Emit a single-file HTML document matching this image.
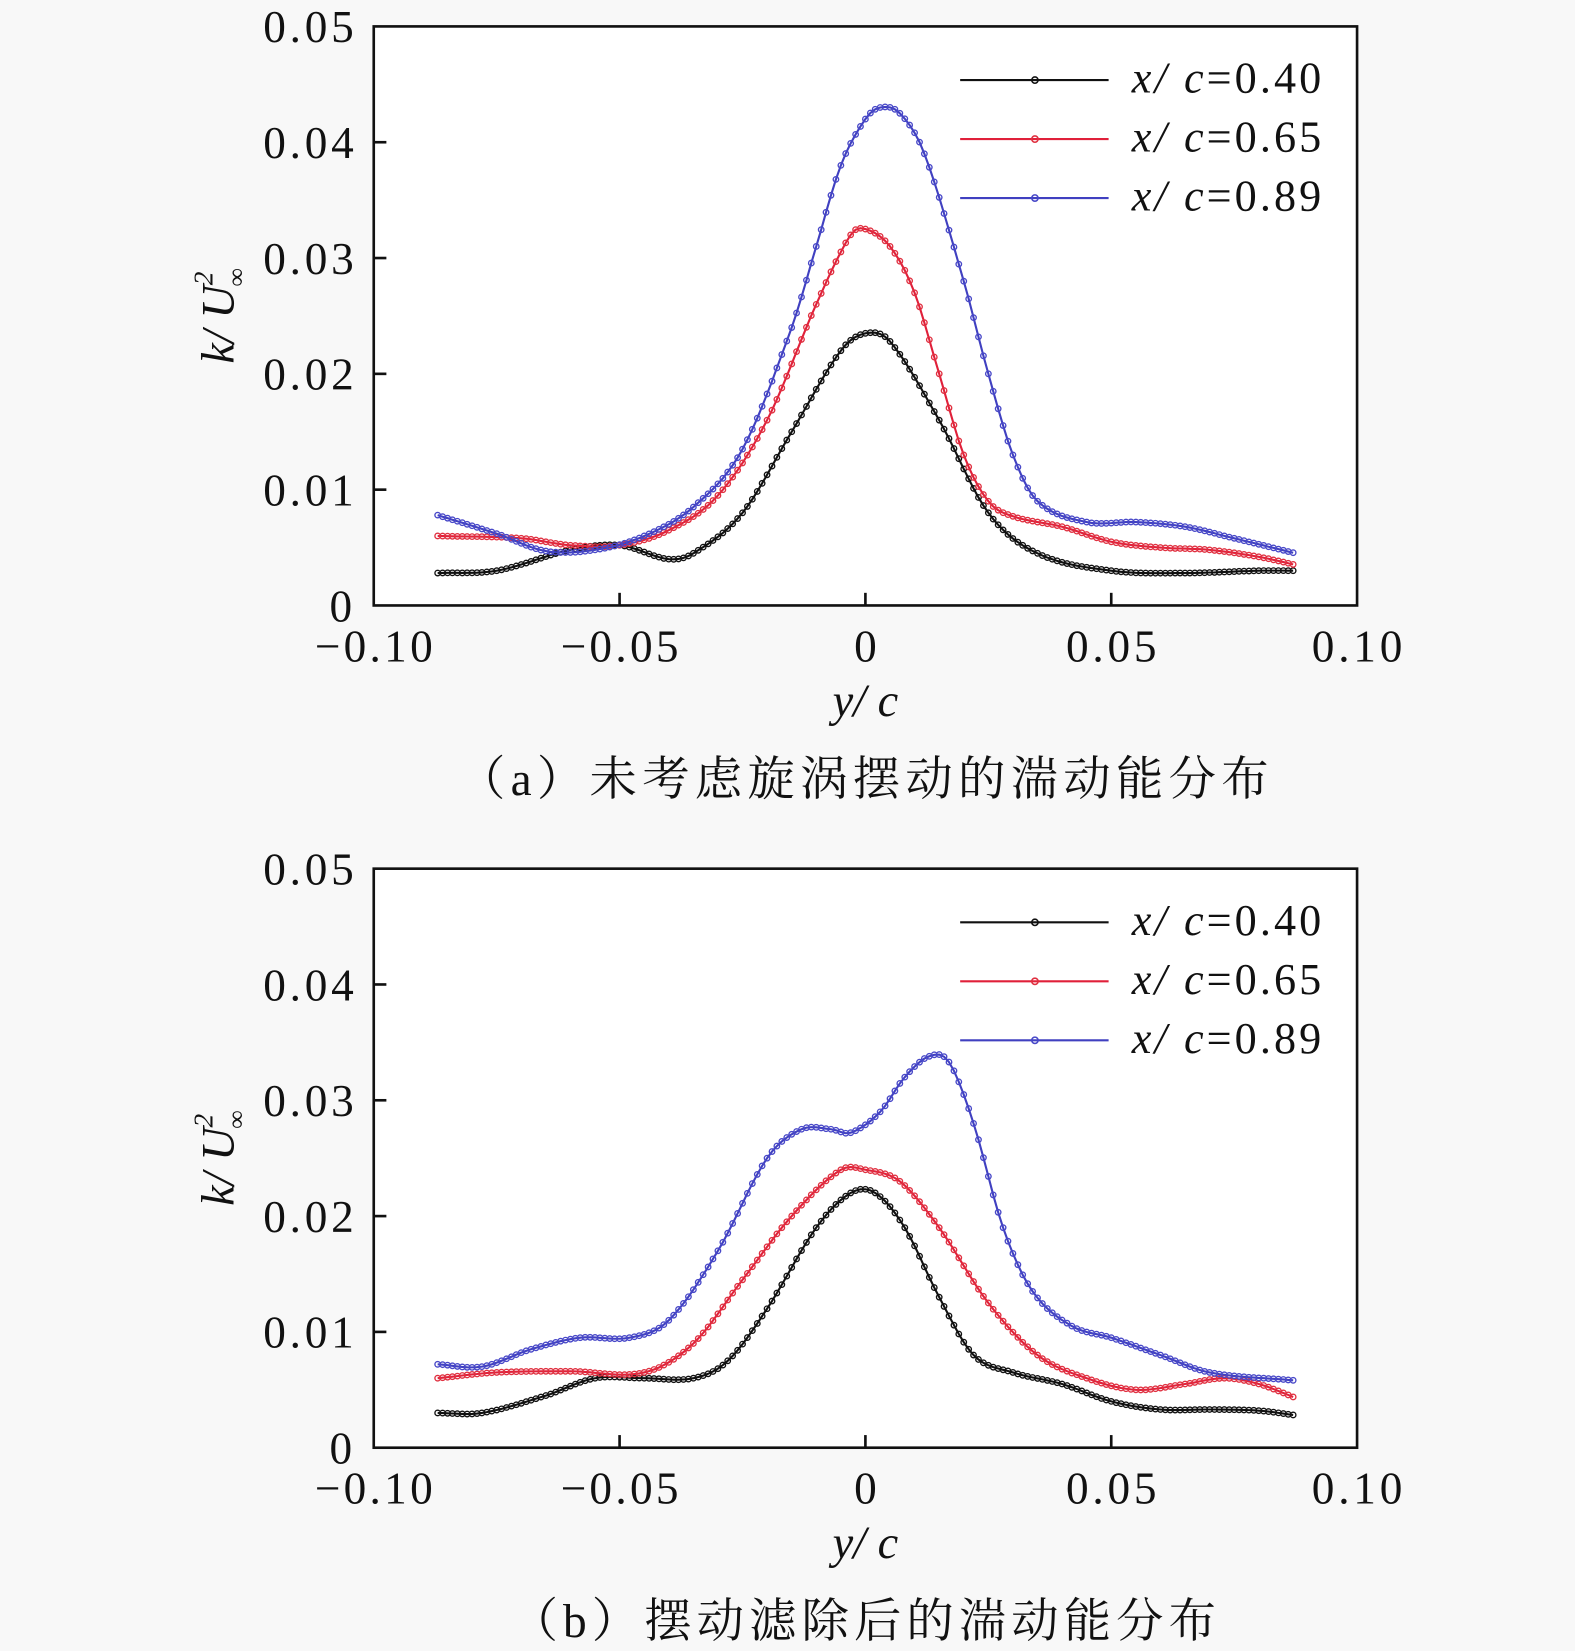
<!DOCTYPE html>
<html><head><meta charset="utf-8"><style>
html,body{margin:0;padding:0;background:#f8f8f8;}
svg{display:block}
text{font-family:"Liberation Serif","Noto Serif CJK SC",serif;fill:#111}
</style></head><body>
<svg id="s" width="1575" height="1651" viewBox="0 0 1496 1568" xmlns="http://www.w3.org/2000/svg"></svg>
<script>
const s=document.getElementById('s');
let h='';
const X0=355,X1=1289;
function px(x){return X0+(x+0.1)/0.2*(X1-X0);}
function interp(pts,x){
  let i=0;while(i<pts.length-2&&x>pts[i+1][0])i++;
  const p1=pts[i],p2=pts[i+1],p0=pts[Math.max(0,i-1)],p3=pts[Math.min(pts.length-1,i+2)];
  const t=(x-p1[0])/(p2[0]-p1[0]);
  const dx=p2[0]-p1[0];
  const m1=(p2[1]-p0[1])/(p2[0]-p0[0])*dx, m2=(p3[1]-p1[1])/(p3[0]-p1[0])*dx;
  const t2=t*t,t3=t2*t;
  return (2*t3-3*t2+1)*p1[1]+(t3-2*t2+t)*m1+(-2*t3+3*t2)*p2[1]+(t3-t2)*m2;
}
function panel(oy,data,cap,capx,capw){
  const Y0=oy+575,py=v=>Y0-v/0.05*550;
  h+=`<rect x="${X0}" y="${oy+25}" width="${X1-X0}" height="550" fill="#fff" stroke="#111" stroke-width="2.5"/>`;
  for(let i=1;i<5;i++){h+=`<line x1="${X0}" x2="${X0+12}" y1="${py(i*0.01)}" y2="${py(i*0.01)}" stroke="#111" stroke-width="2.5"/>`;}
  [-0.05,0,0.05].forEach(v=>h+=`<line x1="${px(v)}" x2="${px(v)}" y1="${Y0}" y2="${Y0-12}" stroke="#111" stroke-width="2.5"/>`);
  ['0','0.01','0.02','0.03','0.04','0.05'].forEach((t,i)=>{
    const tl=t.length>1?' textLength="86"':'';
    h+=`<text x="${t.length>1?250:313}" y="${py(i*0.01)+15}" font-size="43"${tl}>${t}</text>`;});
  ['\u22120.10','\u22120.05','0','0.05','0.10'].forEach((t,i)=>{
    const c=px(-0.1+i*0.05);const w=t.length>4?112:(t.length>1?86:0);
    if(w) h+=`<text x="${c-(t.length>4?56:43)}" y="${Y0+53}" font-size="43" textLength="${w}">${t}</text>`;
    else h+=`<text x="${c}" y="${Y0+53}" font-size="43" text-anchor="middle">${t}</text>`;});
  h+=`<text x="822" y="${Y0+105}" font-size="44" font-style="italic" text-anchor="middle">y/ c</text>`;
  h+=`<text transform="translate(222,${oy+300}) rotate(-90)" font-size="44" font-style="italic" text-anchor="middle">k/ U<tspan font-size="26" dy="-20">2</tspan><tspan font-size="24" dy="30" dx="-14">∞</tspan></text>`;
  h+=`<text x="${capx}" y="${oy+755}" font-size="45" textLength="${capw}">${cap}</text>`;
  const cols=['#111','#e0203a','#4040c0'],mk=['#111','#e03040','#4848c8'],lab=['0.40','0.65','0.89'];
  data.forEach((pts,k)=>{
    let d='',c='';
    for(let x=-0.087;x<=0.0871;x+=0.001){
      const X=px(x),Y=py(interp(pts,x));
      d+=(d?'L':'M')+X.toFixed(1)+' '+Y.toFixed(1);
      c+=`<circle cx="${X.toFixed(1)}" cy="${Y.toFixed(1)}" r="2.6"/>`;
    }
    h+=`<path d="${d}" fill="none" stroke="${cols[k]}" stroke-width="2"/>`;
    h+=`<g fill="none" stroke="${mk[k]}" stroke-width="1.3">${c}</g>`;
    const ly=oy+76+k*56;
    h+=`<line x1="912" x2="1053" y1="${ly}" y2="${ly}" stroke="${cols[k]}" stroke-width="2"/><circle cx="983" cy="${ly}" r="3" fill="none" stroke="${mk[k]}" stroke-width="1.5"/>`;
    h+=`<text x="1075" y="${ly+12}" font-size="42" textLength="180"><tspan font-style="italic">x/ c</tspan>=${lab[k]}</text>`;
  });
}
const A=[
[[-0.087,0.0028],[-0.075,0.003],[-0.06,0.0048],[-0.05,0.0052],[-0.04,0.004],[-0.035,0.0045],[-0.025,0.008],[-0.015,0.015],[-0.005,0.022],[0,0.0235],[0.005,0.0228],[0.015,0.016],[0.025,0.008],[0.035,0.0045],[0.05,0.003],[0.065,0.0028],[0.08,0.003],[0.0875,0.003]],
[[-0.087,0.006],[-0.07,0.0058],[-0.06,0.0052],[-0.05,0.0052],[-0.04,0.0065],[-0.03,0.0095],[-0.02,0.016],[-0.01,0.026],[-0.003,0.032],[0,0.0325],[0.005,0.031],[0.01,0.027],[0.015,0.02],[0.02,0.013],[0.025,0.009],[0.03,0.0077],[0.04,0.0068],[0.05,0.0055],[0.06,0.005],[0.07,0.0048],[0.08,0.0042],[0.0875,0.0035]],
[[-0.087,0.0078],[-0.075,0.0062],[-0.065,0.0047],[-0.055,0.0048],[-0.045,0.006],[-0.035,0.0085],[-0.025,0.0135],[-0.015,0.024],[-0.01,0.031],[-0.005,0.038],[0,0.042],[0.003,0.043],[0.007,0.0425],[0.012,0.039],[0.02,0.028],[0.025,0.02],[0.03,0.013],[0.035,0.009],[0.045,0.0072],[0.055,0.0072],[0.065,0.0068],[0.075,0.0058],[0.0875,0.0045]]];
const B=[
[[-0.087,0.003],[-0.078,0.003],[-0.065,0.0045],[-0.055,0.006],[-0.045,0.006],[-0.035,0.006],[-0.028,0.0075],[-0.02,0.012],[-0.01,0.019],[-0.003,0.022],[0.002,0.022],[0.008,0.019],[0.015,0.013],[0.022,0.008],[0.03,0.0065],[0.04,0.0055],[0.05,0.004],[0.06,0.0033],[0.07,0.0033],[0.08,0.0032],[0.0875,0.0028]],
[[-0.087,0.006],[-0.075,0.0065],[-0.06,0.0066],[-0.045,0.0065],[-0.035,0.009],[-0.025,0.0145],[-0.015,0.02],[-0.005,0.024],[0,0.024],[0.007,0.023],[0.015,0.019],[0.025,0.0125],[0.035,0.008],[0.045,0.006],[0.055,0.005],[0.065,0.0055],[0.073,0.006],[0.08,0.0055],[0.0875,0.0043]],
[[-0.087,0.0072],[-0.078,0.007],[-0.068,0.0085],[-0.058,0.0095],[-0.048,0.0095],[-0.04,0.011],[-0.03,0.017],[-0.02,0.025],[-0.013,0.0275],[-0.007,0.0275],[-0.003,0.0272],[0.003,0.029],[0.008,0.032],[0.013,0.0338],[0.017,0.0333],[0.022,0.028],[0.028,0.019],[0.034,0.0135],[0.042,0.0105],[0.05,0.0095],[0.06,0.008],[0.07,0.0065],[0.0875,0.0058]]];
panel(0,A,'（a）未考虑旋涡摆动的湍动能分布',435,770);
panel(800,B,'（b）摆动滤除后的湍动能分布',485,670);
s.innerHTML=h;
</script>
</body></html>
